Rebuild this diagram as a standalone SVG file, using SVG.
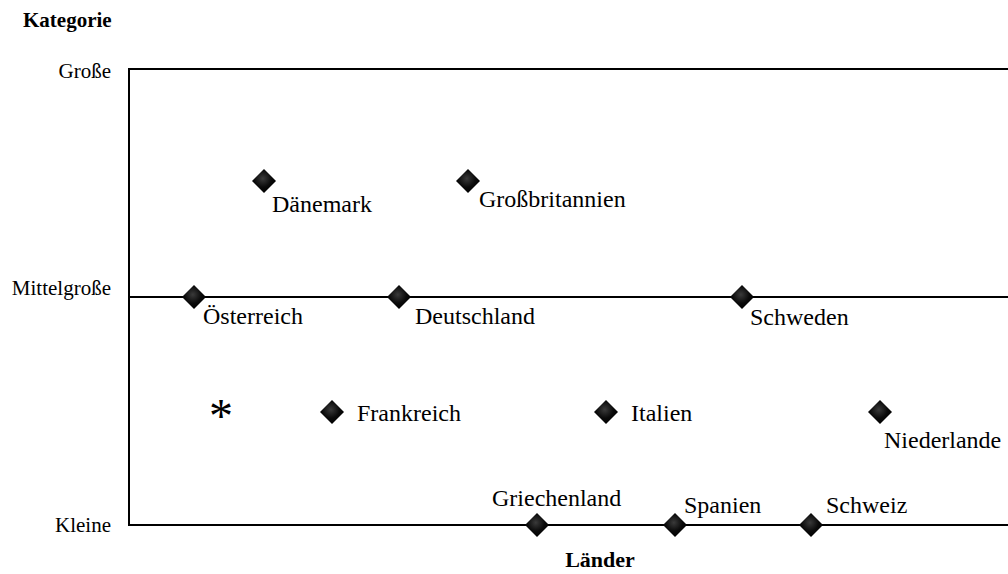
<svg xmlns="http://www.w3.org/2000/svg" width="1008" height="574" viewBox="0 0 1008 574">
  <defs>
    <radialGradient id="gem" cx="0.45" cy="0.4" r="0.6">
      <stop offset="0" stop-color="#3a3a3a"/>
      <stop offset="0.6" stop-color="#0a0a0a"/>
      <stop offset="1" stop-color="#000"/>
    </radialGradient>
    <polygon id="dia" points="0,-12 12,0 0,12 -12,0" fill="url(#gem)"/>
  </defs>
  <style>
    .lbl { font-family: "Liberation Serif", "Times New Roman", serif; font-size: 24px; fill: #000; }
    .ax { font-family: "Liberation Serif", "Times New Roman", serif; font-size: 21px; fill: #000; }
    .ttl { font-family: "Liberation Serif", "Times New Roman", serif; font-size: 21px; font-weight: bold; fill: #000; }
    .ln { stroke: #000; stroke-width: 2; fill: none; }
  </style>
  <rect width="1008" height="574" fill="#fff"/>

  <!-- axes and category levels -->
  <g id="connectors">
    <polyline class="ln" points="1008,69 129,69 129,525 1008,525"/>
    <line class="ln" x1="129" y1="297" x2="1008" y2="297"/>
  </g>

  <g id="axis-labels">
    <text class="ttl" x="23" y="27">Kategorie</text>
    <text class="ttl" x="600" y="567" text-anchor="middle" style="font-size:22px">Länder</text>
    <text class="ax" x="111" y="78" text-anchor="end">Große</text>
    <text class="ax" x="111" y="295" text-anchor="end">Mittelgroße</text>
    <text class="ax" x="111" y="532" text-anchor="end">Kleine</text>
  </g>

  <g id="daenemark"><use href="#dia" x="264" y="181"/><text class="lbl" x="272" y="212">Dänemark</text></g>
  <g id="grossbritannien"><use href="#dia" x="468" y="181"/><text class="lbl" x="479" y="207">Großbritannien</text></g>
  <g id="oesterreich"><use href="#dia" x="194" y="297"/><text class="lbl" x="203" y="324">Österreich</text></g>
  <g id="deutschland"><use href="#dia" x="399" y="297"/><text class="lbl" x="415" y="324">Deutschland</text></g>
  <g id="schweden"><use href="#dia" x="742" y="297"/><text class="lbl" x="750" y="325">Schweden</text></g>
  <g id="unbekannt"><text class="lbl" x="221" y="432" text-anchor="middle" style="font-size:48px">*</text></g>
  <g id="frankreich"><use href="#dia" x="332" y="412"/><text class="lbl" x="357" y="421">Frankreich</text></g>
  <g id="italien"><use href="#dia" x="606" y="412"/><text class="lbl" x="631" y="421">Italien</text></g>
  <g id="niederlande"><use href="#dia" x="880" y="412"/><text class="lbl" x="884" y="448">Niederlande</text></g>
  <g id="griechenland"><use href="#dia" x="537" y="525"/><text class="lbl" x="492" y="506">Griechenland</text></g>
  <g id="spanien"><use href="#dia" x="675" y="525"/><text class="lbl" x="684" y="513">Spanien</text></g>
  <g id="schweiz"><use href="#dia" x="811" y="525"/><text class="lbl" x="826" y="513">Schweiz</text></g>
</svg>
